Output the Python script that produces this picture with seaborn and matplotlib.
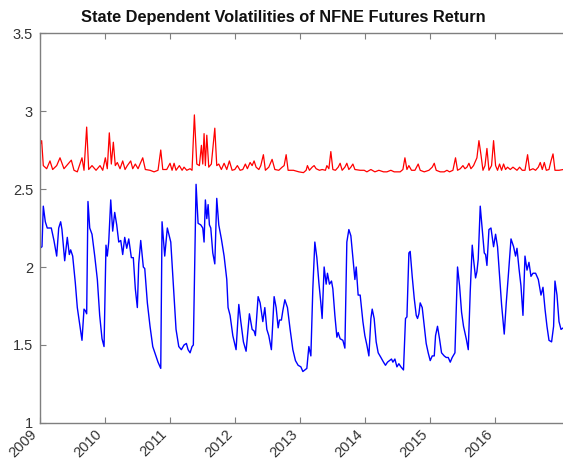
import numpy as np
import pandas as pd
import seaborn as sns
import matplotlib.pyplot as plt

# ---- data (decimal years) ----
blue_t = [2009.000, 2009.031, 2009.051, 2009.082, 2009.112, 2009.174, 2009.215, 2009.257, 2009.288, 2009.318,
          2009.338, 2009.380, 2009.420, 2009.451, 2009.472, 2009.503, 2009.543, 2009.574, 2009.615, 2009.646,
          2009.677, 2009.697, 2009.718, 2009.738, 2009.765, 2009.800, 2009.842, 2009.882, 2009.918, 2009.954,
          2009.985, 2010.015, 2010.035, 2010.057, 2010.088, 2010.118, 2010.149, 2010.180, 2010.211, 2010.242,
          2010.272, 2010.303, 2010.334, 2010.365, 2010.405, 2010.435, 2010.466, 2010.497, 2010.518, 2010.549,
          2010.589, 2010.611, 2010.651, 2010.692, 2010.734, 2010.774, 2010.815, 2010.857, 2010.877, 2010.918,
          2010.958, 2011.011, 2011.051, 2011.092, 2011.134, 2011.174, 2011.215, 2011.251, 2011.277, 2011.308,
          2011.338, 2011.358, 2011.400, 2011.431, 2011.472, 2011.503, 2011.523, 2011.543, 2011.565, 2011.585,
          2011.605, 2011.626, 2011.657, 2011.688, 2011.718, 2011.749, 2011.789, 2011.831, 2011.872, 2011.892,
          2011.923, 2011.965, 2012.015, 2012.057, 2012.088, 2012.128, 2012.169, 2012.220, 2012.262, 2012.292,
          2012.312, 2012.354, 2012.385, 2012.426, 2012.457, 2012.488, 2012.518, 2012.558, 2012.600, 2012.631,
          2012.662, 2012.682, 2012.712, 2012.734, 2012.765, 2012.805, 2012.846, 2012.888, 2012.928, 2012.969,
          2013.011, 2013.042, 2013.072, 2013.103, 2013.134, 2013.165, 2013.195, 2013.226, 2013.257, 2013.288,
          2013.318, 2013.338, 2013.369, 2013.400, 2013.420, 2013.451, 2013.482, 2013.503, 2013.534, 2013.565,
          2013.585, 2013.615, 2013.657, 2013.688, 2013.718, 2013.749, 2013.780, 2013.820, 2013.842, 2013.862,
          2013.892, 2013.923, 2013.965, 2013.995, 2014.026, 2014.057, 2014.088, 2014.108, 2014.138, 2014.169,
          2014.200, 2014.242, 2014.282, 2014.312, 2014.343, 2014.374, 2014.405, 2014.426, 2014.457, 2014.488,
          2014.518, 2014.549, 2014.589, 2014.620, 2014.642, 2014.672, 2014.692, 2014.723, 2014.754, 2014.785,
          2014.805, 2014.826, 2014.846, 2014.877, 2014.908, 2014.938, 2014.969, 2015.000, 2015.031, 2015.062,
          2015.082, 2015.112, 2015.143, 2015.174, 2015.215, 2015.246, 2015.277, 2015.308, 2015.338, 2015.380,
          2015.420, 2015.451, 2015.482, 2015.512, 2015.554, 2015.585, 2015.615, 2015.646, 2015.666, 2015.697,
          2015.718, 2015.738, 2015.769, 2015.800, 2015.831, 2015.851, 2015.872, 2015.903, 2015.934, 2015.974,
          2016.005, 2016.035, 2016.066, 2016.097, 2016.138, 2016.169, 2016.200, 2016.242, 2016.282, 2016.312,
          2016.334, 2016.365, 2016.395, 2016.426, 2016.457, 2016.488, 2016.518, 2016.549, 2016.580, 2016.620,
          2016.662, 2016.703, 2016.734, 2016.765, 2016.795, 2016.826, 2016.866, 2016.897, 2016.918, 2016.949,
          2016.980, 2017.011, 2017.046]
blue_v = [2.12, 2.13, 2.39, 2.29, 2.25, 2.25, 2.17, 2.07, 2.25, 2.29,
          2.24, 2.04, 2.19, 2.08, 2.11, 2.07, 1.90, 1.74, 1.62, 1.53,
          1.73, 1.72, 1.70, 2.42, 2.25, 2.21, 2.07, 1.92, 1.69, 1.54,
          1.49, 2.14, 2.07, 2.16, 2.43, 2.23, 2.35, 2.27, 2.16, 2.17,
          2.08, 2.19, 2.12, 2.18, 2.06, 2.06, 1.86, 1.74, 2.02, 2.17,
          2.00, 1.99, 1.77, 1.62, 1.49, 1.44, 1.39, 1.35, 2.29, 2.07,
          2.25, 2.16, 1.88, 1.60, 1.49, 1.47, 1.50, 1.51, 1.47, 1.45,
          1.49, 1.50, 2.53, 2.28, 2.27, 2.25, 2.16, 2.43, 2.31, 2.40,
          2.27, 2.25, 2.09, 2.02, 2.44, 2.27, 2.18, 2.07, 1.92, 1.74,
          1.69, 1.56, 1.47, 1.76, 1.65, 1.52, 1.46, 1.70, 1.60, 1.59,
          1.56, 1.81, 1.77, 1.65, 1.74, 1.60, 1.56, 1.47, 1.81, 1.74,
          1.61, 1.66, 1.66, 1.72, 1.79, 1.74, 1.60, 1.47, 1.40, 1.37,
          1.36, 1.33, 1.34, 1.35, 1.49, 1.43, 1.86, 2.16, 2.06, 1.90,
          1.77, 1.67, 2.00, 1.89, 1.96, 1.89, 1.91, 1.86, 1.69, 1.55,
          1.58, 1.54, 1.53, 1.48, 2.16, 2.24, 2.20, 2.02, 1.92, 2.00,
          1.82, 1.82, 1.65, 1.56, 1.50, 1.43, 1.67, 1.73, 1.67, 1.52,
          1.45, 1.42, 1.39, 1.37, 1.39, 1.40, 1.41, 1.39, 1.41, 1.36,
          1.38, 1.36, 1.34, 1.67, 1.68, 2.09, 2.10, 1.94, 1.80, 1.69,
          1.67, 1.70, 1.77, 1.74, 1.62, 1.51, 1.45, 1.40, 1.43, 1.43,
          1.56, 1.62, 1.54, 1.45, 1.43, 1.42, 1.42, 1.39, 1.42, 1.45,
          2.00, 1.88, 1.71, 1.62, 1.54, 1.47, 1.84, 2.14, 2.05, 1.93,
          1.97, 2.05, 2.39, 2.24, 2.09, 2.08, 2.01, 2.24, 2.25, 2.13,
          2.21, 2.13, 1.94, 1.76, 1.57, 1.77, 1.94, 2.18, 2.13, 2.07,
          2.12, 1.99, 1.88, 1.69, 2.07, 1.98, 2.03, 1.94, 1.96, 1.96,
          1.92, 1.82, 1.87, 1.73, 1.62, 1.53, 1.52, 1.62, 1.91, 1.82,
          1.65, 1.60, 1.61]

red_t = [2009.000, 2009.026, 2009.051, 2009.103, 2009.154, 2009.195, 2009.257, 2009.308, 2009.369, 2009.482,
         2009.523, 2009.574, 2009.646, 2009.677, 2009.718, 2009.749, 2009.800, 2009.862, 2009.923, 2009.965,
         2010.005, 2010.035, 2010.066, 2010.097, 2010.128, 2010.158, 2010.189, 2010.231, 2010.272, 2010.308,
         2010.343, 2010.395, 2010.426, 2010.466, 2010.508, 2010.538, 2010.580, 2010.620, 2010.692, 2010.754,
         2010.815, 2010.857, 2010.888, 2010.949, 2011.000, 2011.031, 2011.062, 2011.092, 2011.143, 2011.185,
         2011.215, 2011.257, 2011.308, 2011.338, 2011.374, 2011.411, 2011.451, 2011.482, 2011.503, 2011.523,
         2011.543, 2011.565, 2011.595, 2011.635, 2011.688, 2011.718, 2011.749, 2011.789, 2011.831, 2011.872,
         2011.912, 2011.954, 2011.995, 2012.035, 2012.077, 2012.118, 2012.158, 2012.189, 2012.231, 2012.262,
         2012.292, 2012.323, 2012.365, 2012.395, 2012.435, 2012.466, 2012.518, 2012.569, 2012.611, 2012.672,
         2012.723, 2012.754, 2012.785, 2012.815, 2012.897, 2012.980, 2013.051, 2013.092, 2013.112, 2013.143,
         2013.185, 2013.215, 2013.246, 2013.297, 2013.338, 2013.389, 2013.411, 2013.442, 2013.472, 2013.503,
         2013.543, 2013.585, 2013.615, 2013.646, 2013.688, 2013.718, 2013.749, 2013.780, 2013.811, 2013.842,
         2013.923, 2013.985, 2014.026, 2014.088, 2014.149, 2014.211, 2014.282, 2014.334, 2014.395, 2014.446,
         2014.538, 2014.580, 2014.611, 2014.642, 2014.672, 2014.712, 2014.765, 2014.815, 2014.846, 2014.908,
         2014.980, 2015.031, 2015.062, 2015.092, 2015.154, 2015.215, 2015.257, 2015.297, 2015.349, 2015.389,
         2015.420, 2015.462, 2015.503, 2015.534, 2015.565, 2015.595, 2015.626, 2015.666, 2015.697, 2015.718,
         2015.749, 2015.780, 2015.811, 2015.842, 2015.872, 2015.903, 2015.943, 2015.974, 2016.005, 2016.035,
         2016.066, 2016.097, 2016.128, 2016.158, 2016.189, 2016.231, 2016.272, 2016.303, 2016.334, 2016.374,
         2016.415, 2016.457, 2016.497, 2016.528, 2016.580, 2016.620, 2016.662, 2016.692, 2016.723, 2016.754,
         2016.785, 2016.826, 2016.857, 2016.888, 2016.918, 2016.980, 2017.046]
red_v = [2.78, 2.81, 2.65, 2.63, 2.68, 2.625, 2.65, 2.70, 2.63, 2.685,
         2.62, 2.61, 2.70, 2.62, 2.897, 2.625, 2.65, 2.62, 2.65, 2.62,
         2.70, 2.63, 2.86, 2.66, 2.80, 2.65, 2.67, 2.63, 2.68, 2.625,
         2.65, 2.68, 2.63, 2.66, 2.63, 2.66, 2.70, 2.625, 2.62, 2.61,
         2.62, 2.75, 2.625, 2.625, 2.665, 2.62, 2.665, 2.62, 2.65, 2.62,
         2.64, 2.62, 2.63, 2.62, 2.975, 2.66, 2.65, 2.78, 2.66, 2.855,
         2.65, 2.845, 2.64, 2.66, 2.89, 2.65, 2.66, 2.625, 2.665, 2.625,
         2.68, 2.62, 2.625, 2.65, 2.62, 2.625, 2.66, 2.63, 2.67, 2.65,
         2.68, 2.64, 2.625, 2.65, 2.72, 2.62, 2.64, 2.69, 2.625, 2.62,
         2.64, 2.65, 2.72, 2.62, 2.62, 2.61, 2.605, 2.62, 2.65, 2.62,
         2.64, 2.65, 2.63, 2.62, 2.625, 2.62, 2.65, 2.63, 2.74, 2.625,
         2.62, 2.64, 2.665, 2.62, 2.64, 2.665, 2.625, 2.64, 2.66, 2.625,
         2.62, 2.62, 2.61, 2.625, 2.61, 2.62, 2.61, 2.61, 2.62, 2.61,
         2.61, 2.625, 2.70, 2.625, 2.65, 2.62, 2.62, 2.66, 2.62, 2.61,
         2.62, 2.64, 2.665, 2.62, 2.61, 2.61, 2.62, 2.61, 2.62, 2.70,
         2.62, 2.63, 2.65, 2.63, 2.64, 2.665, 2.63, 2.65, 2.68, 2.70,
         2.81, 2.72, 2.62, 2.65, 2.76, 2.62, 2.65, 2.81, 2.65, 2.62,
         2.66, 2.62, 2.66, 2.625, 2.64, 2.625, 2.64, 2.63, 2.62, 2.64,
         2.62, 2.62, 2.72, 2.62, 2.63, 2.62, 2.64, 2.67, 2.625, 2.67,
         2.62, 2.625, 2.68, 2.725, 2.62, 2.62, 2.625]

year_ticks = [2009, 2010, 2011, 2012, 2013, 2014, 2015, 2016]
y_ticks = [1, 1.5, 2, 2.5, 3, 3.5]
y_labels = ["1", "1.5", "2", "2.5", "3", "3.5"]
title = "State Dependent Volatilities of NFNE Futures Return"

blue = pd.DataFrame({"t": blue_t, "v": blue_v})
red = pd.DataFrame({"t": red_t, "v": red_v})

sns.set_style("white")
plt.rcParams["font.family"] = ["Liberation Sans", "DejaVu Sans"]

fig = plt.figure(figsize=(5.63, 4.63), dpi=100)
ax = fig.add_axes([0.071, 0.0864, 0.945, 0.8423])

sns.lineplot(data=red, x="t", y="v", color="#ff0000", linewidth=0.9, ax=ax)
sns.lineplot(data=blue, x="t", y="v", color="#0000ff", linewidth=1.0, ax=ax)

# axes run past the right edge of the canvas, as in the reference crop
ax.set_xlim(2009, 2017.18)
ax.set_ylim(1, 3.5)
ax.set_xticks(year_ticks)
ax.set_xticklabels([str(y) for y in year_ticks], rotation=45, ha="right", va="top")
ax.set_yticks(y_ticks)
ax.set_yticklabels(y_labels)
ax.set_xlabel("")
ax.set_ylabel("")

axis_col = "#7f7f7f"
for side in ["left", "bottom", "top"]:
    ax.spines[side].set_color(axis_col)
    ax.spines[side].set_linewidth(1.0)
ax.spines["right"].set_visible(False)
ax.tick_params(axis="both", direction="in", length=4, width=0.8, color=axis_col,
               labelsize=10.5, labelcolor="#333333")
ax.tick_params(axis="x", bottom=True, top=True, pad=3)
ax.tick_params(axis="y", left=True, pad=5)

fig.text(0.504, 0.945, title, ha="center", va="bottom",
         fontsize=11.8, fontweight="bold", color="#111111")

fig.savefig("out.png", dpi=100)
